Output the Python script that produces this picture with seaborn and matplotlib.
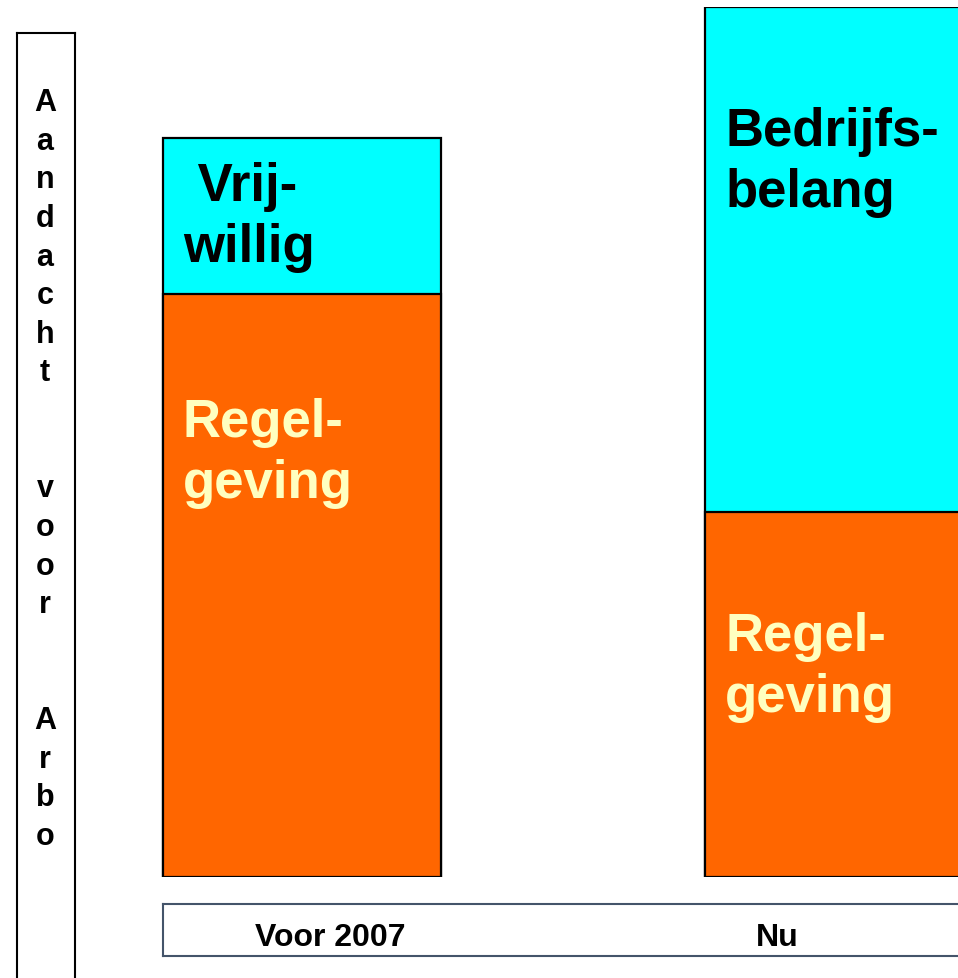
import matplotlib.pyplot as plt
import seaborn as sns
import pandas as pd

# Gegevens
perioden = ['Voor 2007', 'Nu']
regelgeving = [67, 42]
vrijwillig = [18, 58]
totaal = [r + v for r, v in zip(regelgeving, vrijwillig)]
boven_labels = [' Vrij-\nwillig', 'Bedrijfs-\nbelang']
onder_label = 'Regel-\ngeving'
y_label = 'Aandacht  voor  Arbo'

df = pd.DataFrame({'periode': perioden, 'regelgeving': regelgeving, 'totaal': totaal})

sns.set_style('white')
plt.rcParams['font.family'] = ['Liberation Sans', 'DejaVu Sans']
plt.rcParams['text.color'] = 'black'

W, H = 958, 979
fig = plt.figure(figsize=(W / 100, H / 100), dpi=100)

# Hoofdassen met de gestapelde staven
ax = fig.add_axes([0, (H - 878) / H, 1, 870 / H])
breedte = 0.513
sns.barplot(data=df, x='periode', y='totaal', color='#00FFFF', saturation=1,
            edgecolor='black', linewidth=1.6, width=breedte, errorbar=None, ax=ax)
sns.barplot(data=df, x='periode', y='regelgeving', color='#FF6600', saturation=1,
            edgecolor='black', linewidth=1.6, width=breedte, errorbar=None, ax=ax)
ax.set_xlim(-0.557, 1.210)
ax.set_ylim(0, 100)
ax.axis('off')

pad = 0.037
# va='baseline' zet de basislijn van de laatste regel
bold = dict(fontsize=38, fontweight='bold', ha='left', va='baseline', linespacing=1.28)
# bovenste segmenten
ax.text(0 - breedte / 2 + pad, totaal[0] - 14.2, boven_labels[0], color='black', **bold)
ax.text(1 - breedte / 2 + pad, totaal[1] - 22.9, boven_labels[1], color='black', **bold)
# onderste segmenten
ax.text(0 - breedte / 2 + pad, regelgeving[0] - 23.3, onder_label, color='#FFFFC0', **bold)
ax.text(1 - breedte / 2 + pad, regelgeving[1] - 22.9, onder_label, color='#FFFFC0', **bold)

# Kader met de verticale y-as tekst
ax_y = fig.add_axes([17 / W, -0.05, 58 / W, (H - 34) / H + 0.05])
ax_y.set_xticks([])
ax_y.set_yticks([])
for s in ax_y.spines.values():
    s.set_color('black')
    s.set_linewidth(1.5)
fig.text(45 / W, (H - 845) / H, '\n'.join(list(y_label)), fontsize=22, fontweight='bold',
         ha='center', va='baseline', linespacing=1.375, color='black')

# Kader met de categorieën
ax_x = fig.add_axes([163 / W, (H - 957) / H, 802 / W, 52 / H])
ax_x.set_xticks([])
ax_x.set_yticks([])
for s in ax_x.spines.values():
    s.set_color('#44546A')
    s.set_linewidth(1.5)
ax_x.text(0.208, 0.21, perioden[0], fontsize=23, fontweight='bold', ha='center', va='baseline',
          color='black', transform=ax_x.transAxes)
ax_x.text(0.766, 0.21, perioden[1], fontsize=23, fontweight='bold', ha='center', va='baseline',
          color='black', transform=ax_x.transAxes)

fig.savefig('out.png', dpi=100)
